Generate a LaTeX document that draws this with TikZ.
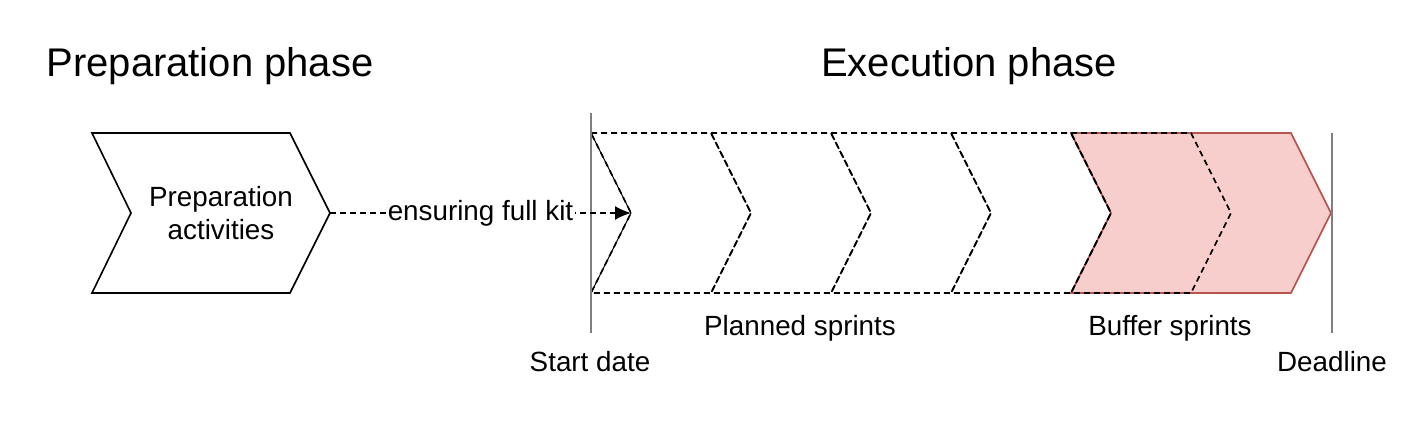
\documentclass[tikz,border=0pt]{standalone}
\usepackage{fontspec}
\setmainfont{Liberation Sans}
\usetikzlibrary{arrows.meta, positioning}

\definecolor{bufferfill}{HTML}{F8CECC}
\definecolor{bufferline}{HTML}{B85450}
\definecolor{dateline}{HTML}{7F7F7F}

\tikzset{
  phase/.style={font=\fontsize{20}{24}\selectfont, anchor=base},
  label/.style={font=\fontsize{13.9}{16.7}\selectfont, anchor=base},
  sprint/.style={draw, line width=0.8pt, dash pattern=on 3pt off 2pt},
  datemark/.style={draw=dateline, line width=1pt}
}

\begin{document}
\begin{tikzpicture}[x=0.5pt, y=-0.5pt]
            \useasboundingbox (0,0) rectangle (1408,432);

            % headings
            \node (prephead) at (210,77) [phase] {Preparation phase};
            \node (exechead) at (969,77) [phase] {Execution phase};

            % preparation chevron
            \draw[line width=0.8pt] (92,133) -- (290,133) -- (330,213) -- (290,293)
                -- (92,293) -- (131,213) -- cycle;
            \coordinate (preptip) at (330,213);
            \node (prep) at (221,213) [font=\fontsize{13.9}{16.7}\selectfont, align=center] {Preparation\\activities};

            % buffer area
            \draw[fill=bufferfill, draw=bufferline, line width=0.8pt] (1071,133) -- (1291,133)
                -- (1331,213) -- (1291,293) -- (1071,293) -- (1111,213) -- cycle;

            % sprints
            \foreach \i in {1,...,5} {
                \pgfmathsetmacro{\xl}{591+120*(\i-1)}
                \draw[sprint] (\xl,133) -- (\xl+120,133) -- (\xl+160,213) -- (\xl+120,293)
                    -- (\xl,293) -- (\xl+40,213) -- cycle;
                \coordinate (tip\i) at (\xl+40,213);
            }
            \draw[line width=0.5pt] (591,133) -- (tip1) -- (591,293);

            % dates
            \coordinate (starttop) at (591,113);
            \coordinate (startbot) at (591,333);
            \coordinate (deadtop) at (1332,133);
            \coordinate (deadbot) at (1332,333);
            \draw[datemark] (starttop) -- (startbot);
            \draw[datemark] (deadtop) -- (deadbot);

            \draw[line width=0.8pt, dash pattern=on 3pt off 2pt, -{Latex[length=8pt, width=7pt]}] (preptip) --
                node[fill=white, inner sep=1pt, font=\fontsize{13.9}{16.7}\selectfont] (kit) {ensuring full kit} (tip1);

            \node (planned) at (800,336) [label] {Planned sprints};
            \node (buffer) at (1170,336) [label] {Buffer sprints};
            \node (start) at (590,372) [label] {Start date};
            \node (deadline) at (1332,372) [label] {Deadline};
        \end{tikzpicture}
\end{document}
